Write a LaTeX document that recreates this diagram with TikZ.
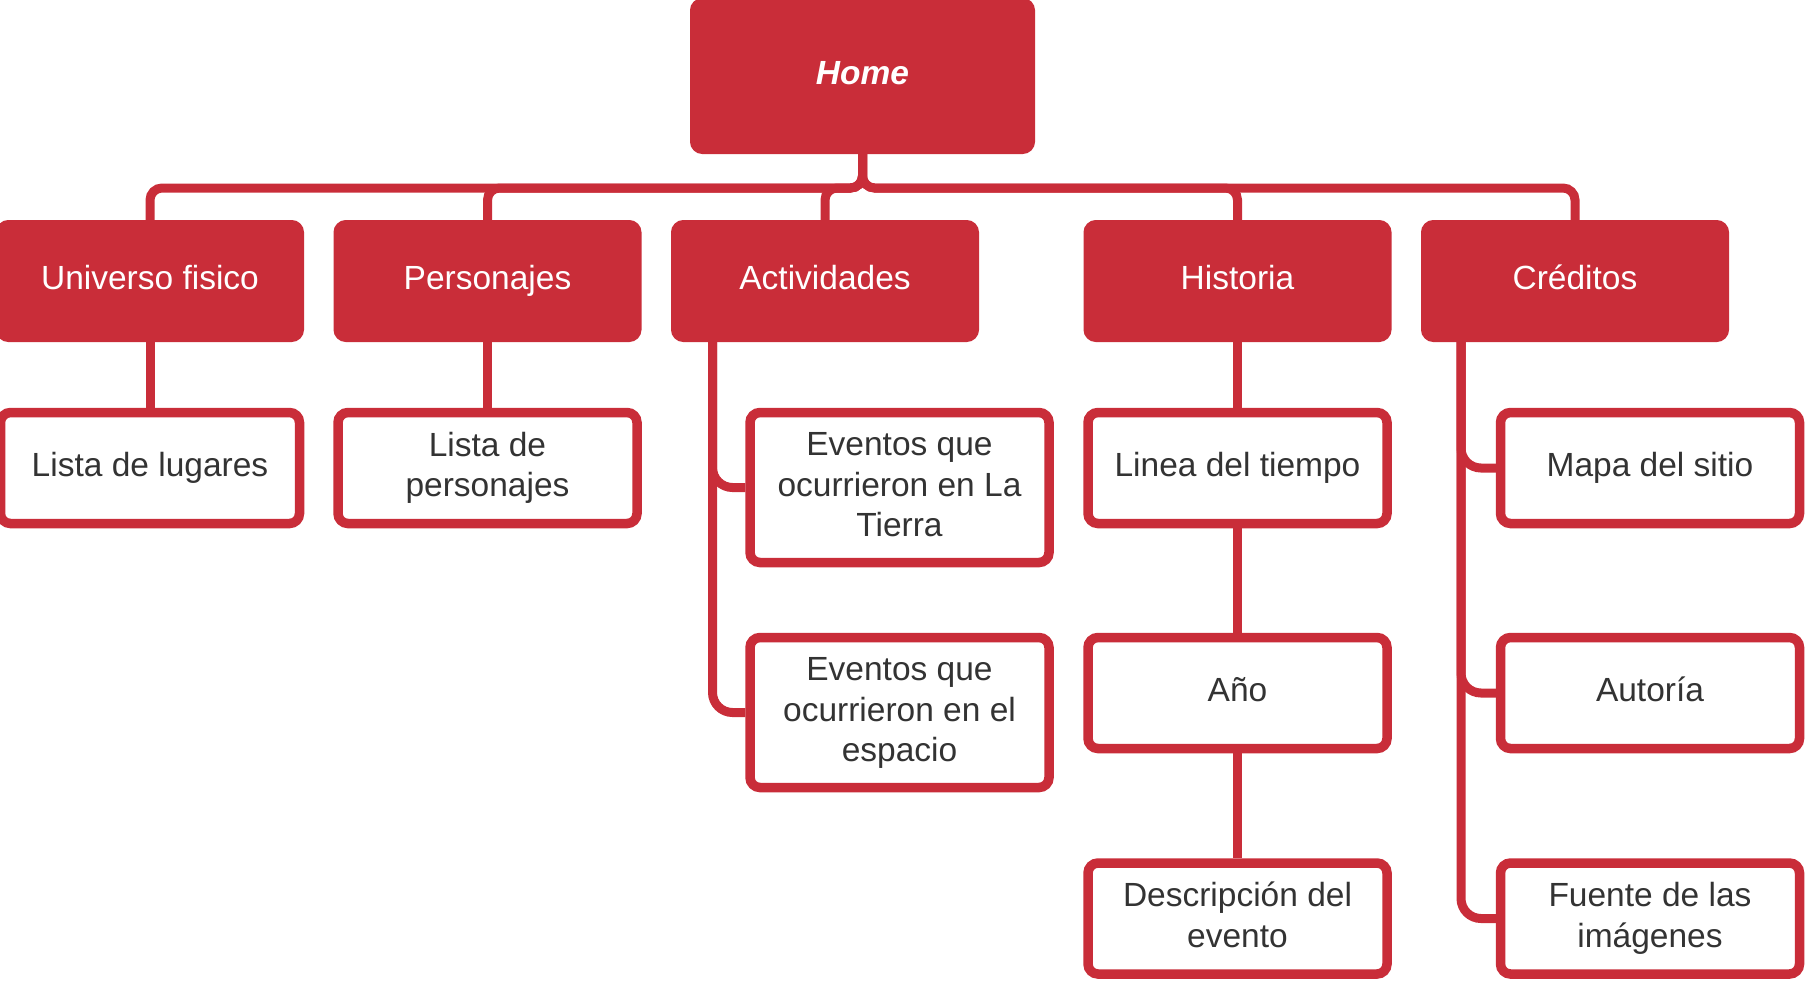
\documentclass[tikz,border=0pt]{standalone}
\usepackage{fontspec}
\setmainfont{Liberation Sans}
\definecolor{lred}{RGB}{201,45,57}
\definecolor{dtext}{RGB}{51,51,51}
\newcommand\tstrut{\rule[-11.5pt]{0pt}{40pt}}
\newcommand\boxtext[1]{\tstrut#1\tstrut}
\begin{document}
\begin{tikzpicture}[x=1pt,y=-1pt,
  redbox/.style={draw=lred, fill=lred, line width=9pt, rounded corners=8pt,
    minimum width=299pt, minimum height=113pt, inner sep=0pt, text=white,
    align=center, font=\fontsize{33.5pt}{40.5pt}\selectfont},
  whitebox/.style={draw=lred, fill=white, line width=9.5pt, rounded corners=10pt,
    minimum width=299pt, minimum height=111pt, inner sep=0pt, text=dtext,
    align=center, font=\fontsize{33.5pt}{40.5pt}\selectfont},
  tallbox/.style={whitebox, minimum height=150pt},
  conn/.style={draw=lred, line width=9pt, rounded corners=12pt},
  sideconn/.style={conn, rounded corners=20pt}]
\useasboundingbox (0,0) rectangle (1817,994);

% top
\node[redbox, minimum width=336pt, minimum height=147pt,
  font=\fontsize{33.5pt}{40.5pt}\selectfont\bfseries\itshape] (home) at (862.5,76) {\boxtext{Home}};

% level 1
\node[redbox] (univ) at (150,281)    {\boxtext{Universo fisico}};
\node[redbox] (pers) at (487.5,281)  {\boxtext{Personajes}};
\node[redbox] (act)  at (825,281)    {\boxtext{Actividades}};
\node[redbox] (hist) at (1237.5,281) {\boxtext{Historia}};
\node[redbox] (cred) at (1575,281)   {\boxtext{Créditos}};

% level 2
\node[whitebox] (lugares) at (150,468)   {\boxtext{Lista de lugares}};
\node[whitebox] (lpers)   at (487.5,468) {\boxtext{Lista de\\personajes}};
\node[tallbox]  (ev1)     at (899.5,487.5) {\boxtext{Eventos que\\ocurrieron en La\\Tierra}};
\node[tallbox]  (ev2)     at (899.5,712.5) {\boxtext{Eventos que\\ocurrieron en el\\espacio}};
\node[whitebox] (linea)   at (1237.5,468)  {\boxtext{Linea del tiempo}};
\node[whitebox] (anio)    at (1237.5,693)  {\boxtext{Año}};
\node[whitebox] (desc)    at (1237.5,918.5) {\boxtext{Descripción del\\evento}};
\node[whitebox] (mapa)    at (1650,468)    {\boxtext{Mapa del sitio}};
\node[whitebox] (autor)   at (1650,693)    {\boxtext{Autoría}};
\node[whitebox] (fuente)  at (1650,918.5)  {\boxtext{Fuente de las\\imágenes}};

% connectors from home
\coordinate (busy) at (0,188);
\foreach \n in {univ,pers,act,hist,cred}
  \draw[conn] (home.south) -- (home.south |- busy) -| (\n.north);

% straight connectors
\draw[conn] (univ.south) -- (lugares.north);
\draw[conn] (pers.south) -- (lpers.north);
\draw[conn] (hist.south) -- (linea.north);
\draw[conn] (linea.south) -- (anio.north);
\draw[conn] (anio.south) -- (desc.north);

% side connectors
\coordinate (ax) at (712.5,0);
\draw[sideconn] (act.south -| ax) |- (ev1.west);
\draw[sideconn] (act.south -| ax) |- (ev2.west);
\coordinate (cx) at (1461,0);
\draw[sideconn] (cred.south -| cx) |- (mapa.west);
\draw[sideconn] (cred.south -| cx) |- (autor.west);
\draw[sideconn] (cred.south -| cx) |- (fuente.west);
\end{tikzpicture}
\end{document}
